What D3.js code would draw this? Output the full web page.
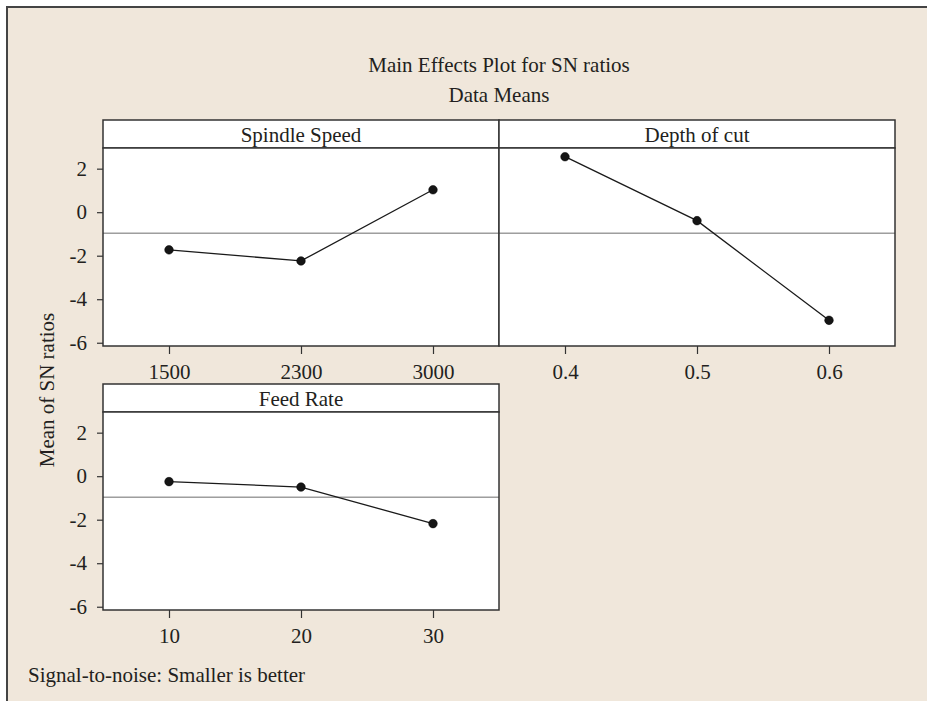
<!DOCTYPE html>
<html lang="en">
<head>
  <meta charset="UTF-8">
  <title>Main Effects Plot for SN ratios</title>
  <script src="https://d3js.org/d3.v7.min.js"></script>
</head>
<style>
  body { margin: 0; background: #fff; }
  text { font-family: "Liberation Serif", "DejaVu Serif", serif; fill: #231f20; }
  .frame { stroke: #333; stroke-width: 1.5px; }
  .mean { stroke: #6d6d6d; stroke-width: 1px; }
  .effect { fill: none; stroke: #1a1a1a; stroke-width: 1.3px; }
  .axis path.domain { display: none; }
  .axis line { stroke: #333; stroke-width: 1.2px; }
  .axis text { font-size: 21px; }
</style>
<body>
<svg id="chart" width="927" height="701"></svg>

<script>
  // values
  const factors = ["Spindle Speed", "Depth of cut", "Feed Rate"];
  const spindleLevels = ["1500", "2300", "3000"];
  const spindleMeans = [-1.73, -2.24, 1.03];
  const depthLevels = ["0.4", "0.5", "0.6"];
  const depthMeans = [2.55, -0.39, -4.97];
  const feedLevels = ["10", "20", "30"];
  const feedMeans = [-0.25, -0.50, -2.18];
  const yTicks = [-6, -4, -2, 0, 2];

  const levels = [spindleLevels, depthLevels, feedLevels];
  const means = [spindleMeans, depthMeans, feedMeans];
  const grandMean = d3.mean(means.flat());

  const svg = d3.select("#chart");

  // page background with the top and left rules
  svg.append("rect").attr("x", 7).attr("y", 7).attr("width", 930).attr("height", 700)
          .attr("fill", "#f0e7db");
  svg.append("path").attr("d", "M7,701V7H927")
          .attr("fill", "none").attr("stroke", "#444").attr("stroke-width", 2);

  svg.append("text").attr("x", 499).attr("y", 65).attr("dy", "0.35em")
          .attr("text-anchor", "middle").style("font-size", "21px")
          .text("Main Effects Plot for SN ratios");
  svg.append("text").attr("x", 499).attr("y", 95).attr("dy", "0.35em")
          .attr("text-anchor", "middle").style("font-size", "21px")
          .text("Data Means");

  const panelW = 396, headH = 28, plotH = 198;
  const cells = [
    {x: 103, y: 120},
    {x: 499, y: 120},
    {x: 103, y: 384}
  ];

  const y = d3.scaleLinear().domain([-6.15, 2.95]).range([plotH, 0]);

  cells.forEach((c, i) => {
    const g = svg.append("g").attr("transform", `translate(${c.x},${c.y})`);

    // strip header
    g.append("rect").attr("width", panelW).attr("height", headH)
            .attr("class", "frame").style("fill", "#fff");
    g.append("text").attr("x", panelW / 2).attr("y", headH / 2 + 1).attr("dy", "0.35em")
            .attr("text-anchor", "middle").style("font-size", "21px")
            .text(factors[i]);

    const p = g.append("g").attr("transform", `translate(0,${headH})`);
    p.append("rect").attr("width", panelW).attr("height", plotH).style("fill", "#fff");

    const x = d3.scalePoint().domain(levels[i]).range([0, panelW]).padding(0.5);

    p.append("line").attr("class", "mean")
            .attr("x1", 0).attr("x2", panelW)
            .attr("y1", y(grandMean)).attr("y2", y(grandMean));

    const pts = levels[i].map((l, k) => [x(l), y(means[i][k])]);
    p.append("path").attr("class", "effect").attr("d", d3.line()(pts));
    p.selectAll("circle").data(pts).join("circle")
            .attr("cx", d => d[0]).attr("cy", d => d[1]).attr("r", 4.3)
            .attr("fill", "#151515").attr("stroke", "#000").attr("stroke-width", 0.5);

    p.append("rect").attr("width", panelW).attr("height", plotH)
            .attr("class", "frame").style("fill", "none");

    p.append("g").attr("class", "axis")
            .attr("transform", `translate(0,${plotH})`)
            .call(d3.axisBottom(x).tickSize(8).tickSizeOuter(0).tickPadding(10));

    if (c.x === 103) {
      p.append("g").attr("class", "axis")
              .call(d3.axisLeft(y).tickValues(yTicks).tickFormat(d => String(d))
                      .tickSize(6).tickPadding(10));
    }
  });

  svg.append("text")
          .attr("transform", "translate(47,390) rotate(-90)")
          .attr("dy", "0.35em").attr("text-anchor", "middle").style("font-size", "21px")
          .text("Mean of SN ratios");

  svg.append("text").attr("x", 28).attr("y", 675).attr("dy", "0.35em")
          .style("font-size", "21px")
          .text("Signal-to-noise: Smaller is better");
</script>
</body>
</html>
